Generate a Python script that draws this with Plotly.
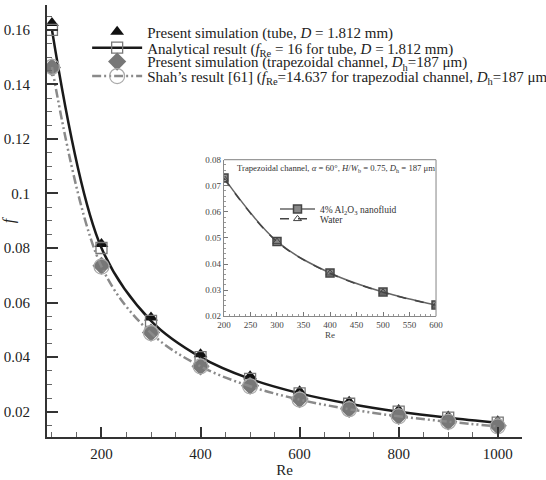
import plotly.graph_objects as go

# ---------------- data ----------------
re_main = [100, 200, 300, 400, 500, 600, 700, 800, 900, 1000]
f_tube_sim = [0.1625, 0.0815, 0.0545, 0.0410, 0.0330, 0.0275, 0.0236, 0.0206, 0.0182, 0.0165]
f_tube_analytical = [0.1600, 0.0800, 0.0533, 0.0400, 0.0320, 0.0267, 0.0229, 0.0200, 0.0178, 0.0160]
f_trap_sim = [0.1462, 0.0735, 0.0490, 0.0366, 0.0295, 0.0246, 0.0210, 0.0184, 0.0164, 0.0148]
f_trap_shah = [0.1464, 0.0732, 0.0488, 0.0366, 0.0293, 0.0244, 0.0209, 0.0183, 0.0163, 0.0146]

re_inset = [200, 300, 400, 500, 600]
f_inset_nano = [0.0730, 0.0487, 0.0366, 0.0293, 0.0243]
f_inset_water = [0.0728, 0.0486, 0.0365, 0.0292, 0.0242]

x_ticks_main = [200, 400, 600, 800, 1000]
y_ticks_main = [0.02, 0.04, 0.06, 0.08, 0.1, 0.12, 0.14, 0.16]
y_ticklabels_main = ["0.02", "0.04", "0.06", "0.08", "0.1", "0.12", "0.14", "0.16"]
x_ticks_inset = [200, 250, 300, 350, 400, 450, 500, 550, 600]
y_ticks_inset = [0.02, 0.03, 0.04, 0.05, 0.06, 0.07, 0.08]

SERIF = "Liberation Serif"

fig = go.Figure()

# ---------------- main traces ----------------
fig.add_trace(go.Scatter(
    x=re_main, y=f_tube_sim, mode="markers",
    name="Present simulation (tube, <i>D</i> = 1.812 mm)",
    marker=dict(symbol="triangle-up", size=12, color="#111111"),
    legend="legend"))
fig.add_trace(go.Scatter(
    x=re_main, y=f_tube_analytical, mode="lines+markers",
    name="Analytical result (<i>f</i><sub>Re</sub> = 16 for tube, <i>D</i> = 1.812 mm)",
    line=dict(color="#1a1a1a", width=2.5, shape="spline"),
    marker=dict(symbol="square-open", size=11, color="#777777", line=dict(width=1.3)),
    legend="legend3"))
fig.add_trace(go.Scatter(
    x=re_main, y=f_trap_sim, mode="markers",
    name="Present simulation (trapezoidal channel, <i>D</i><sub>h</sub>=187 μm)",
    marker=dict(symbol="diamond", size=14, color="#777777"),
    legend="legend4"))
fig.add_trace(go.Scatter(
    x=re_main, y=f_trap_shah, mode="lines+markers",
    name="Shah’s result [61] (<i>f</i><sub>Re</sub>=14.637 for trapezodial channel, <i>D</i><sub>h</sub>=187 μm)",
    line=dict(color="#8a8a8a", width=2.5, dash="9px,3px,2px,3px,2px,3px", shape="spline"),
    marker=dict(symbol="circle-open", size=15, color="#aaaaaa", line=dict(width=1.2)),
    legend="legend5"))

# ---------------- inset traces ----------------
fig.add_trace(go.Scatter(
    x=re_inset, y=f_inset_nano, mode="lines+markers", xaxis="x2", yaxis="y2",
    name="4% Al<sub>2</sub>O<sub>3</sub> nanofluid",
    line=dict(color="#666666", width=1.5, shape="spline"),
    marker=dict(symbol="square", size=8, color="#888888", line=dict(color="#444444", width=1.5)),
    legend="legend2"))
fig.add_trace(go.Scatter(
    x=re_inset, y=f_inset_water, mode="lines+markers", xaxis="x2", yaxis="y2",
    name="Water",
    line=dict(color="#444444", width=1.5, dash="dash", shape="spline"),
    marker=dict(symbol="triangle-up-open", size=7, color="#444444", line=dict(width=1)),
    legend="legend6"))

# ---------------- layout ----------------
inset_x = [0.3726, 0.819]
inset_y = [0.2794, 0.642]


def main_legend(ypos):
    return dict(
        x=0.0845, y=ypos, xanchor="left", yanchor="middle",
        bgcolor="rgba(0,0,0,0)", borderwidth=0,
        font=dict(family=SERIF, size=15, color="#222222"),
        itemwidth=50, tracegroupgap=0,
    )


def inset_legend(ypos):
    return dict(
        x=0.48, y=ypos, xanchor="left", yanchor="middle",
        bgcolor="rgba(0,0,0,0)", borderwidth=0,
        font=dict(family=SERIF, size=9.5, color="#333333"),
        itemwidth=35, tracegroupgap=0,
    )


fig.update_layout(
    width=546, height=480,
    margin=dict(l=47, r=24, t=5, b=43, autoexpand=False),
    paper_bgcolor="white", plot_bgcolor="white",
    font=dict(family=SERIF, size=15, color="#222222"),
    xaxis=dict(
        range=[90, 1049], domain=[0, 1], automargin=False,
        showline=True, linecolor="#333333", linewidth=2, mirror=False,
        showgrid=False, zeroline=False,
        tickmode="array", tickvals=x_ticks_main,
        ticks="inside", ticklen=10, tickwidth=2, tickcolor="#333333",
        ticklabelstandoff=2,
        minor=dict(dtick=50, tick0=0, ticks="inside", ticklen=5, tickwidth=1, tickcolor="#666666"),
        title=dict(text="Re", standoff=2, font=dict(size=15)),
        tickfont=dict(size=15),
    ),
    yaxis=dict(
        range=[0.0107, 0.1691], domain=[0, 1], automargin=False,
        showline=True, linecolor="#333333", linewidth=2, mirror=False,
        showgrid=False, zeroline=False,
        tickmode="array", tickvals=y_ticks_main, ticktext=y_ticklabels_main,
        ticks="inside", ticklen=11, tickwidth=2, tickcolor="#333333",
        ticklabelstandoff=12,
        minor=dict(dtick=0.005, tick0=0, ticks="inside", ticklen=5, tickwidth=1, tickcolor="#666666"),
        title=dict(text="<i>f</i>", standoff=3, font=dict(size=16)),
        tickfont=dict(size=15),
    ),
    xaxis2=dict(
        domain=inset_x, anchor="y2", range=[200, 600],
        showline=True, linecolor="#888888", linewidth=1.2,
        showgrid=False, zeroline=False,
        tickmode="array", tickvals=x_ticks_inset,
        ticks="inside", ticklen=4, tickwidth=1, tickcolor="#777777",
        minor=dict(dtick=10, tick0=0, ticks="inside", ticklen=2, tickwidth=1, tickcolor="#999999"),
        tickfont=dict(size=9, color="#444444"),
        title=dict(text="Re", standoff=2, font=dict(size=9, color="#444444")),
    ),
    yaxis2=dict(
        domain=inset_y, anchor="x2", range=[0.02, 0.08],
        showline=True, linecolor="#888888", linewidth=1.2,
        showgrid=False, zeroline=False,
        tickmode="array", tickvals=y_ticks_inset,
        tickformat=".2f",
        ticks="inside", ticklen=4, tickwidth=1, tickcolor="#777777",
        minor=dict(dtick=0.002, tick0=0, ticks="inside", ticklen=2, tickwidth=1, tickcolor="#999999"),
        tickfont=dict(size=9, color="#444444"),
    ),
    legend=main_legend(0.9376),
    legend3=main_legend(0.9007),
    legend4=main_legend(0.8684),
    legend5=main_legend(0.8349),
    legend2=inset_legend(0.528),
    legend6=inset_legend(0.505),
    showlegend=True,
)

# inset frame (top and right edges)
fig.add_shape(type="line", xref="paper", yref="paper",
              x0=inset_x[0], x1=inset_x[1], y0=inset_y[1], y1=inset_y[1],
              line=dict(color="#999999", width=1.2))
fig.add_shape(type="line", xref="paper", yref="paper",
              x0=inset_x[1], x1=inset_x[1], y0=inset_y[0], y1=inset_y[1],
              line=dict(color="#999999", width=1.2))

fig.add_annotation(
    xref="x2", yref="y2", x=220, y=0.0765, xanchor="left", yanchor="middle",
    text="Trapezoidal channel, <i>α</i> = 60°, <i>H</i>/<i>W</i><sub>b</sub> = 0.75, <i>D</i><sub>h</sub> = 187 μm",
    showarrow=False, font=dict(family=SERIF, size=8.7, color="#333333"))

fig.write_html("out.html")
